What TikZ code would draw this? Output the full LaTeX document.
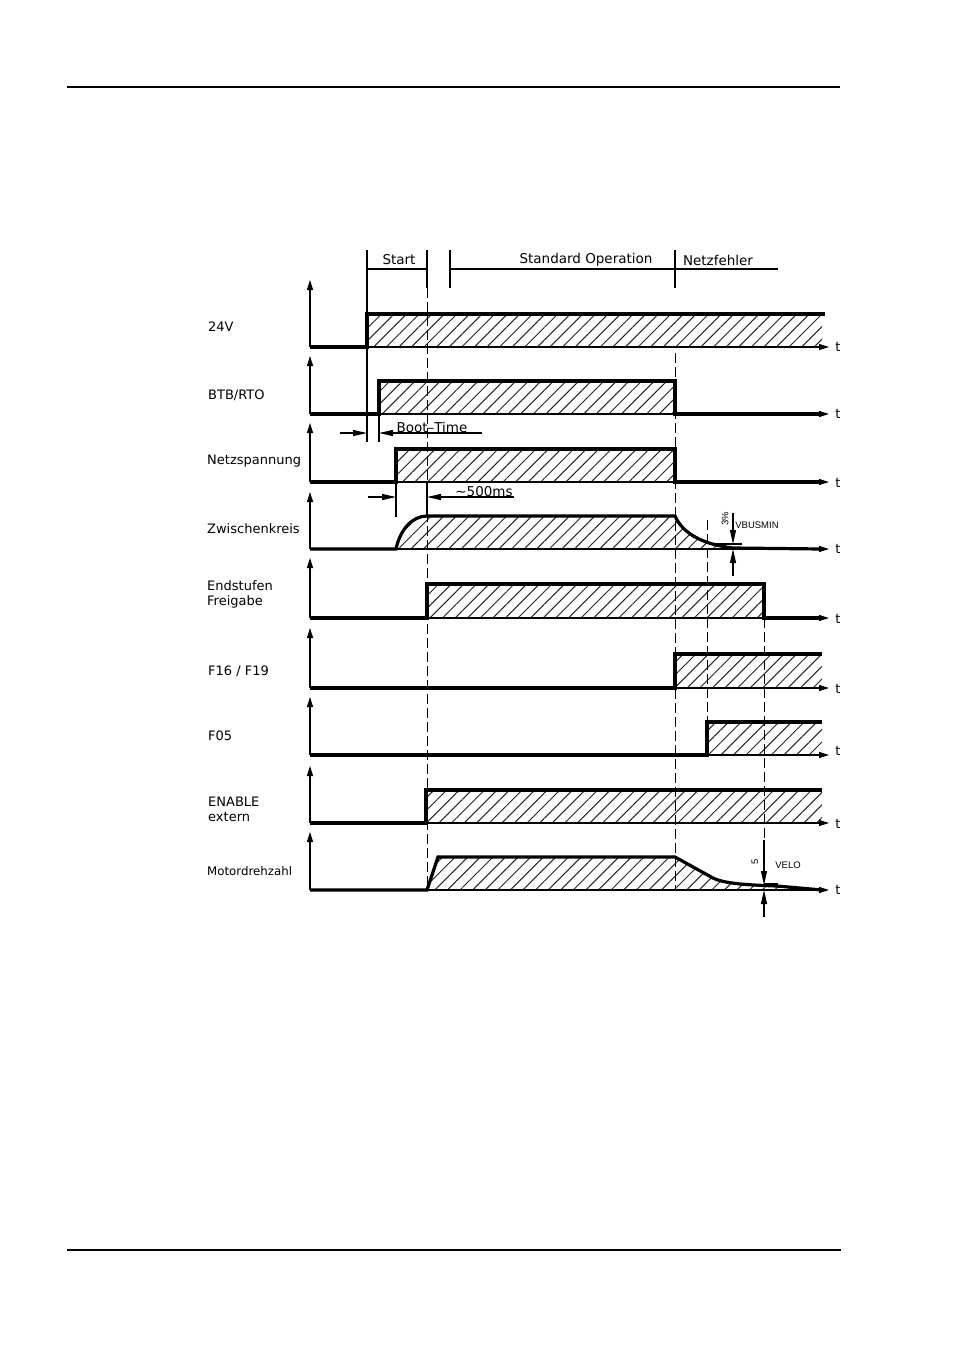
\documentclass[tikz,border=0pt]{standalone}
\usepackage{fontspec}
\setmainfont{DejaVu Sans}
\newfontfamily\smallfont{Liberation Sans}
\usetikzlibrary{arrows.meta,patterns.meta}
\tikzset{
	hatched/.style={pattern={Lines[angle=45,distance=8.9pt,line width=1pt]},pattern color=black!85},
	sig/.style={line width=3.2pt,line join=miter},
	axisline/.style={line width=1.1pt,-{Stealth[inset=0pt,length=10pt,width=6pt]}},
	thinline/.style={line width=1.1pt},
	dashline/.style={line width=0.9pt,dash pattern=on 10pt off 4pt},
	dimarrow/.style={line width=1.1pt,-{Stealth[inset=0pt,length=14pt,width=6pt]}},
	siglabel/.style={anchor=west,font=\fontsize{13}{15}\selectfont,align=left,inner sep=0pt},
	headlabel/.style={font=\fontsize{13.5}{15}\selectfont,inner sep=0pt},
	tlabel/.style={font=\fontsize{13}{15}\selectfont,inner sep=0pt},
	smalllabel/.style={font=\fontsize{9.5}{10}\smallfont,inner sep=0pt}
}
\begin{document}
\begin{tikzpicture}[x=1pt,y=-1pt]
	\useasboundingbox (0,0) rectangle (954,1350);
	\fill[white] (0,0) rectangle (954,1350);
	\draw[line width=2pt] (67,87) -- (840,87);
	\draw[line width=2pt] (67,1250) -- (841,1250);
	\fill[hatched] (367,347) rectangle (822,316);
	\fill[hatched] (379,414) rectangle (675,383);
	\fill[hatched] (396,482) rectangle (675,451);
	\fill[hatched] (396,549) .. controls (400,530) and (412,516) .. (427,516) -- (675,516) .. controls (682,532) and (700,544) .. (733,548) -- (760,549) -- cycle;
	\fill[hatched] (427,618) rectangle (764,586);
	\fill[hatched] (675,688) rectangle (822,656);
	\fill[hatched] (707,755) rectangle (822,724);
	\fill[hatched] (426,823) rectangle (822,792);
	\fill[hatched] (427,890) -- (438,857) -- (675,857) -- (713,878) .. controls (725,884) and (750,885) .. (777,886) -- (800,890) -- cycle;
	\draw[thinline] (367,250) -- (367,347);
	\draw[thinline] (367,347) -- (367,442);
	\draw[thinline] (379,414) -- (379,442);
	\draw[thinline] (396,482) -- (396,517);
	\draw[thinline] (427,250) -- (427,288);
	\draw[thinline] (427,482) -- (427,516);
	\draw[thinline] (450,250) -- (450,288);
	\draw[thinline] (675,250) -- (675,288);
	\draw[thinline] (367,269) -- (427,269);
	\draw[thinline] (450,269) -- (675,269);
	\draw[thinline] (675,269) -- (778,269);
	\draw[dashline] (427,288) -- (427,890);
	\draw[dashline] (675,353) -- (675,890);
	\draw[dashline] (707,520) -- (707,722);
	\draw[dashline] (764,618) -- (764,840);
	\draw[axisline] (310,347) -- (310,280);
	\draw[axisline] (310,414) -- (310,356);
	\draw[axisline] (310,482) -- (310,423);
	\draw[axisline] (310,549) -- (310,492);
	\draw[axisline] (310,618) -- (310,558);
	\draw[axisline] (310,688) -- (310,628);
	\draw[axisline] (310,755) -- (310,697);
	\draw[axisline] (310,823) -- (310,766);
	\draw[axisline] (310,890) -- (310,832);
	\draw[axisline] (310,347) -- (829,347);
	\draw[axisline] (310,414) -- (829,414);
	\draw[axisline] (310,482) -- (829,482);
	\draw[axisline] (310,549) -- (829,549);
	\draw[axisline] (310,618) -- (829,618);
	\draw[axisline] (310,688) -- (829,688);
	\draw[axisline] (310,755) -- (829,755);
	\draw[axisline] (310,823) -- (829,823);
	\draw[axisline] (310,890) -- (829,890);
	\draw[sig] (310,347) -- (367,347) -- (367,314) -- (825,314);
	\draw[sig] (310,414) -- (379,414) -- (379,381) -- (675,381) -- (675,414) -- (822,414);
	\draw[sig] (310,482) -- (396,482) -- (396,449) -- (675,449) -- (675,482) -- (822,482);
	\draw[sig] (310,549) -- (396,549) .. controls (400,530) and (412,516) .. (427,516) -- (675,516) .. controls (682,532) and (700,544) .. (733,548) -- (822,549);
	\draw[sig] (310,618) -- (427,618) -- (427,584) -- (764,584) -- (764,618) -- (822,618);
	\draw[sig] (310,688) -- (675,688) -- (675,654) -- (822,654);
	\draw[sig] (310,755) -- (707,755) -- (707,722) -- (822,722);
	\draw[sig] (310,823) -- (426,823) -- (426,790) -- (822,790);
	\draw[sig] (310,890) -- (427,890) -- (438,857) -- (675,857) -- (713,878) .. controls (725,884) and (750,885) .. (777,886) -- (822,890);
	\draw[dimarrow] (340,433) -- (367,433);
	\draw[dimarrow] (482,433) -- (379,433);
	\draw[dimarrow] (368,497) -- (396,497);
	\draw[dimarrow] (514,497) -- (427,497);
	\draw[thinline] (712,544) -- (742,544);
	\draw[dimarrow] (733,513) -- (733,544);
	\draw[dimarrow] (733,576) -- (733,549);
	\draw[thinline] (764,884) -- (778,884);
	\draw[dimarrow] (764,840) -- (764,885);
	\draw[dimarrow] (764,917) -- (764,890);
	\node[headlabel] (start) at (399,260) {Start};
	\node[headlabel] (standard) at (586,260) {Standard Operation};
	\node[headlabel] (netzfehler) at (718,260) {Netzfehler};
	\node[headlabel] (boottime) at (432,427) {Boot--Time};
	\node[headlabel] (delay) at (484,492) {\textasciitilde500ms};
	\node[siglabel] (supply) at (208,327) {24V};
	\node[siglabel] (btb) at (208,395) {BTB/RTO};
	\node[siglabel] (netz) at (207,461) {Netzspannung};
	\node[siglabel] (zwischen) at (207,529) {Zwischenkreis};
	\node[siglabel] (endstufen) at (207,594.5) {Endstufen\\Freigabe};
	\node[siglabel] (fsixteen) at (208,671) {F16 / F19};
	\node[siglabel] (ffive) at (208,736) {F05};
	\node[siglabel] (enable) at (208,809.5) {ENABLE\\extern};
	\node[siglabel,font=\fontsize{11.8}{14}\selectfont] (motor) at (207,871) {Motordrehzahl};
	\node[tlabel] (ta) at (838,347) {t};
	\node[tlabel] (tb) at (838,414) {t};
	\node[tlabel] (tc) at (838,483) {t};
	\node[tlabel] (td) at (838,549) {t};
	\node[tlabel] (te) at (838,619) {t};
	\node[tlabel] (tf) at (838,689) {t};
	\node[tlabel] (tg) at (838,751) {t};
	\node[tlabel] (th) at (838,824) {t};
	\node[tlabel] (ti) at (838,890) {t};
	\node[smalllabel] (vbusmin) at (757,525) {VBUSMIN};
	\node[smalllabel,rotate=90] (percent) at (725,519) {3\%};
	\node[smalllabel] (velo) at (788,865) {VELO};
	\node[smalllabel,rotate=90] (five) at (755,862) {5};
\end{tikzpicture}
\end{document}
